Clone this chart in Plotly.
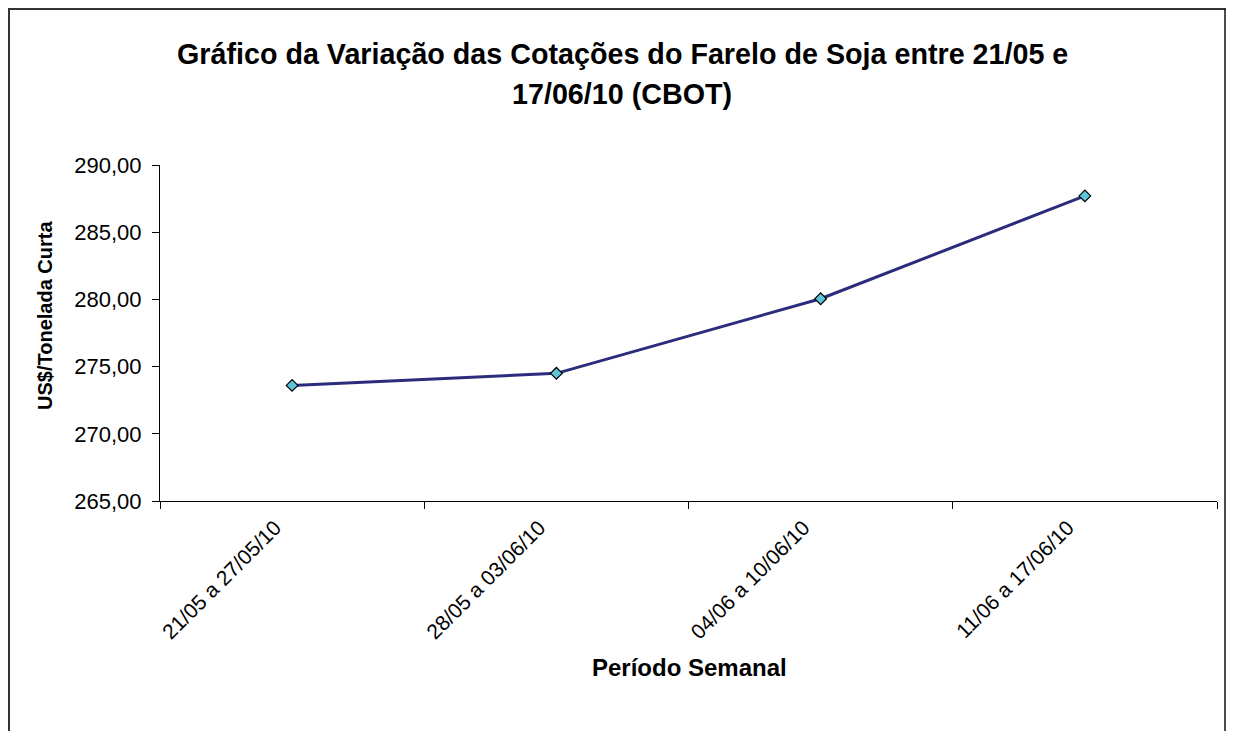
import plotly.graph_objects as go

periodos = ["21/05 a 27/05/10", "28/05 a 03/06/10", "04/06 a 10/06/10", "11/06 a 17/06/10"]
cotacoes = [273.6, 274.5, 280.05, 287.7]

OFF = 8  # default page body margin
W, H = 1234 - 2 * OFF, 731 - OFF
# target plot area in screenshot pixels
X0, X1, Y0, Y1 = 160, 1217, 165, 501
L, R, T, B = X0 - OFF, W + OFF - X1, Y0 - OFF, H + OFF - Y1
pw = X1 - X0
ph = Y1 - Y0

def px(x):
    return (x - X0) / pw

def py(y):
    return (Y1 - y) / ph

fig = go.Figure()
fig.add_trace(go.Scatter(
    x=periodos, y=cotacoes, mode="lines+markers",
    line=dict(color="#2B2C7C", width=3),
    marker=dict(symbol="diamond", size=9, color="#5CC6D6",
                line=dict(color="#000000", width=1.2)),
    showlegend=False, cliponaxis=False,
))

font = "Liberation Sans, Arial, sans-serif"
fig.update_layout(
    width=W, height=H,
    margin=dict(l=L, r=R, t=T, b=B),
    paper_bgcolor="white", plot_bgcolor="white",
    separators=",.",
    font=dict(family=font, color="#000000", size=22),
    xaxis=dict(
        type="category", range=[-0.5, 3.5], tickson="boundaries",
        showgrid=False, showline=True, linecolor="#000000", linewidth=1,
        ticks="outside", ticklen=7, tickcolor="#000000",
        tickangle=-45, tickfont=dict(size=21, family=font),
        ticklabelstandoff=5, ticklabelshift=-17,
        zeroline=False,
    ),
    yaxis=dict(
        range=[265, 290], dtick=5, tickformat=".2f",
        showgrid=False, showline=True, linecolor="#000000", linewidth=1,
        ticks="outside", ticklen=7, tickcolor="#000000",
        tickfont=dict(size=22, family=font), ticklabelstandoff=6,
        zeroline=False,
    ),
    annotations=[
        dict(text="<b>Gráfico da Variação das Cotações do Farelo de Soja entre 21/05 e</b>",
             xref="paper", yref="paper", x=px(622), y=py(54), showarrow=False,
             font=dict(size=28.7, family=font), xanchor="center", yanchor="middle"),
        dict(text="<b>17/06/10 (CBOT)</b>",
             xref="paper", yref="paper", x=px(622), y=py(94), showarrow=False,
             font=dict(size=28.7, family=font), xanchor="center", yanchor="middle"),
        dict(text="<b>Período Semanal</b>",
             xref="paper", yref="paper", x=px(689), y=py(667), showarrow=False,
             font=dict(size=24, family=font), xanchor="center", yanchor="middle"),
        dict(text="<b>US$/Tonelada Curta</b>", textangle=-90,
             xref="paper", yref="paper", x=px(45), y=py(316), showarrow=False,
             font=dict(size=20, family=font), xanchor="center", yanchor="middle"),
    ],
    shapes=[
        dict(type="line", xref="paper", yref="paper", x0=px(8), x1=px(1226), y0=py(9), y1=py(9),
             line=dict(color="#333333", width=2)),
        dict(type="line", xref="paper", yref="paper", x0=px(9), x1=px(9), y0=py(9), y1=py(740),
             line=dict(color="#333333", width=2)),
        dict(type="line", xref="paper", yref="paper", x0=px(1225), x1=px(1225), y0=py(9), y1=py(740),
             line=dict(color="#111111", width=1.5)),
    ],
)

fig.write_html("out.html")
